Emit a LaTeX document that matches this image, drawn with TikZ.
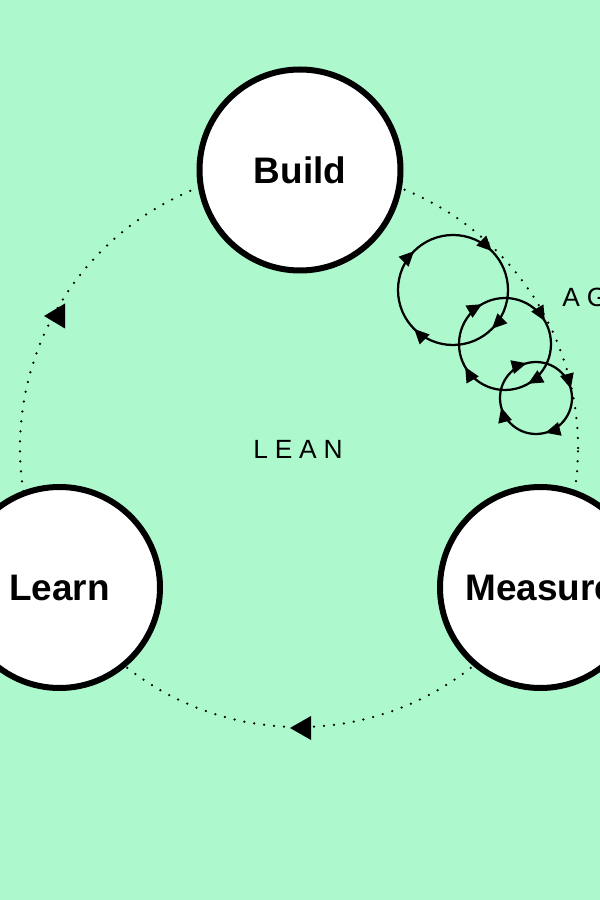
\documentclass[tikz,border=0pt]{standalone}
\usepackage{fontspec}
\setmainfont{Liberation Sans}
\newfontfamily\spacedfont[LetterSpace=26]{Liberation Sans}
\usepackage{tikz}
\usepackage{xcolor}
\usetikzlibrary{arrows.meta,decorations.markings}
\definecolor{mint}{HTML}{ADF9CD}

\begin{document}
\begin{tikzpicture}[
  stage/.style = {shape=circle, draw, line width=0.12cm, fill=white, minimum size=4.02cm, inner sep=0pt, font=\bfseries\fontsize{21}{24}\selectfont},
  tag/.style = {font=\spacedfont\fontsize{15}{18}\selectfont},
  dots/.style = {line width=0.05cm, line cap=round, dash pattern=on 0pt off 0.2cm},
  agileloop/.style = {line width=0.045cm}]
  \clip (0,0) rectangle (12,18);
  \fill[mint] (0,0) rectangle (12,18);

  % lean cycle
  \draw[dots] (5.98,9.04) circle (5.58);
  \coordinate (leftTip) at (0.88,11.68);
  \coordinate (bottomTip) at (5.8,3.44);
  \fill (leftTip) -- ++(0.42,0.25) -- ++(0,-0.5) -- cycle;
  \fill (bottomTip) -- ++(0.42,0.24) -- ++(0,-0.48) -- cycle;

  \node[stage] (build) at (6.0,14.6) {Build};
  \node[stage] (learn) at (1.19,6.25) {Learn};
  \node[stage] (measure) at (10.81,6.25) {Measure};
  \node[tag] (lean) at (5.96,9.02) {LEAN};

  % agile loops
  \foreach \cx/\cy/\r/\s in {9.06/12.2/1.10/0.125, 10.1/11.12/0.92/0.0833, 10.72/10.04/0.72/0.0417} {
    \pgfmathsetmacro\sb{\s+0.25}
    \pgfmathsetmacro\sc{\s+0.5}
    \pgfmathsetmacro\sd{\s+0.75}
    \draw[agileloop, postaction={decorate}, decoration={markings,
      mark=at position \s with {\arrowreversed{Triangle[length=0.3cm,width=0.27cm]}},
      mark=at position \sb with {\arrowreversed{Triangle[length=0.3cm,width=0.27cm]}},
      mark=at position \sc with {\arrowreversed{Triangle[length=0.3cm,width=0.27cm]}},
      mark=at position \sd with {\arrowreversed{Triangle[length=0.3cm,width=0.27cm]}}}]
      (\cx,\cy) circle (\r);
  }
  \node[tag, anchor=west, inner sep=0pt] (agile) at (11.24,12.06) {AGILE};
\end{tikzpicture}
\end{document}
